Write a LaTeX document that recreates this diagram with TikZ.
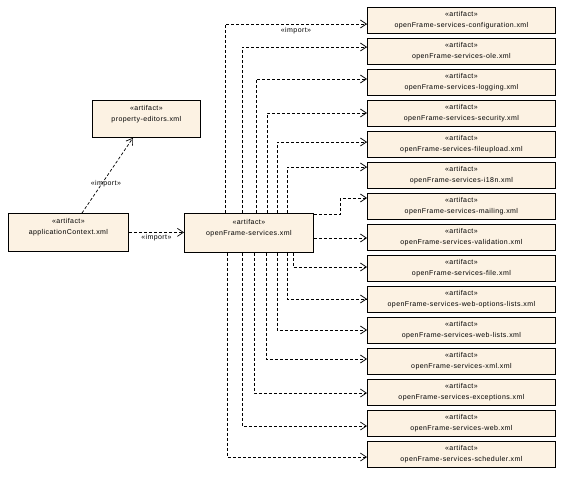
\documentclass[tikz,border=0pt]{standalone}
\usepackage{fontspec}
\setmainfont{Liberation Sans}[LetterSpace=6]
\usetikzlibrary{arrows.meta}
\definecolor{boxfill}{RGB}{252,242,227}
\begin{document}
\begin{tikzpicture}[x=1pt,y=-1pt,
  art/.style={draw=black, fill=boxfill, line width=0.8pt, inner sep=0pt, anchor=north west,
    align=center, font=\fontsize{7}{11}\selectfont},
  small/.style={art, minimum width=188pt, minimum height=26pt},
  big/.style={art, minimum height=38pt},
  dep/.style={dash pattern=on 3pt off 2pt, line width=0.7pt,
    -{Straight Barb[length=6pt,width=8pt,line width=0.7pt]}},
  lbl/.style={font=\fontsize{7}{8}\selectfont, inner sep=0pt}]
\useasboundingbox (0,0) rectangle (567,484);

% left boxes
\node[big, minimum width=120pt] (app) at (8,213) {«artifact»\\applicationContext.xml\\\mbox{}};
\node[big, minimum width=108pt, minimum height=37pt] (prop) at (92,100) {«artifact»\\property-editors.xml\\\mbox{}};
\node[big, minimum width=129pt, minimum height=39pt] (main) at (184,213) {«artifact»\\openFrame-services.xml\\\mbox{}};

% right boxes
\node[small] (b1)  at (367,7)   {«artifact»\\openFrame-services-configuration.xml};
\node[small] (b2)  at (367,38)  {«artifact»\\openFrame-services-ole.xml};
\node[small] (b3)  at (367,69)  {«artifact»\\openFrame-services-logging.xml};
\node[small] (b4)  at (367,100) {«artifact»\\openFrame-services-security.xml};
\node[small] (b5)  at (367,131) {«artifact»\\openFrame-services-fileupload.xml};
\node[small] (b6)  at (367,162) {«artifact»\\openFrame-services-i18n.xml};
\node[small] (b7)  at (367,193) {«artifact»\\openFrame-services-mailing.xml};
\node[small] (b8)  at (367,224) {«artifact»\\openFrame-services-validation.xml};
\node[small] (b9)  at (367,255) {«artifact»\\openFrame-services-file.xml};
\node[small] (b10) at (367,286) {«artifact»\\openFrame-services-web-options-lists.xml};
\node[small] (b11) at (367,317) {«artifact»\\openFrame-services-web-lists.xml};
\node[small] (b12) at (367,348) {«artifact»\\openFrame-services-xml.xml};
\node[small] (b13) at (367,379) {«artifact»\\openFrame-services-exceptions.xml};
\node[small] (b14) at (367,410) {«artifact»\\openFrame-services-web.xml};
\node[small] (b15) at (367,441) {«artifact»\\openFrame-services-scheduler.xml};

% left connectors
\draw[dep] ([xshift=74pt]app.north west) -- node[lbl, pos=0.39, xshift=4pt] {«import»} ([xshift=41pt]prop.south west);
\draw[dep] (app.east) -- node[lbl, below=2pt] {«import»} (app.east -| main.west);

% top connectors
\draw[dep] ([xshift=41pt]main.north west)  |- node[lbl, pos=0.75, below=3pt] {«import»} ([yshift=-17pt]b1.north west);
\draw[dep] ([xshift=58pt]main.north west)  |- ([yshift=-9pt]b2.north west);
\draw[dep] ([xshift=72pt]main.north west)  |- ([yshift=-10pt]b3.north west);
\draw[dep] ([xshift=83pt]main.north west)  |- ([yshift=-13pt]b4.north west);
\draw[dep] ([xshift=93pt]main.north west)  |- ([yshift=-11pt]b5.north west);
\draw[dep] ([xshift=103pt]main.north west) |- ([yshift=-5pt]b6.north west);
\draw[dep] ([yshift=-1pt]main.north east) -- ++(27,0) |- ([yshift=-5pt]b7.north west);
\draw[dep] ([yshift=-25pt]main.north east) -- ([yshift=-14pt]b8.north west);

% bottom connectors
\draw[dep] ([xshift=109pt]main.south west) |- ([yshift=-12pt]b9.north west);
\draw[dep] ([xshift=103pt]main.south west) |- ([yshift=-13pt]b10.north west);
\draw[dep] ([xshift=93pt]main.south west)  |- ([yshift=-13pt]b11.north west);
\draw[dep] ([xshift=82pt]main.south west)  |- ([yshift=-11pt]b12.north west);
\draw[dep] ([xshift=70pt]main.south west)  |- ([yshift=-14pt]b13.north west);
\draw[dep] ([xshift=58pt]main.south west)  |- ([yshift=-16pt]b14.north west);
\draw[dep] ([xshift=43pt]main.south west)  |- ([yshift=-16pt]b15.north west);
\end{tikzpicture}
\end{document}
